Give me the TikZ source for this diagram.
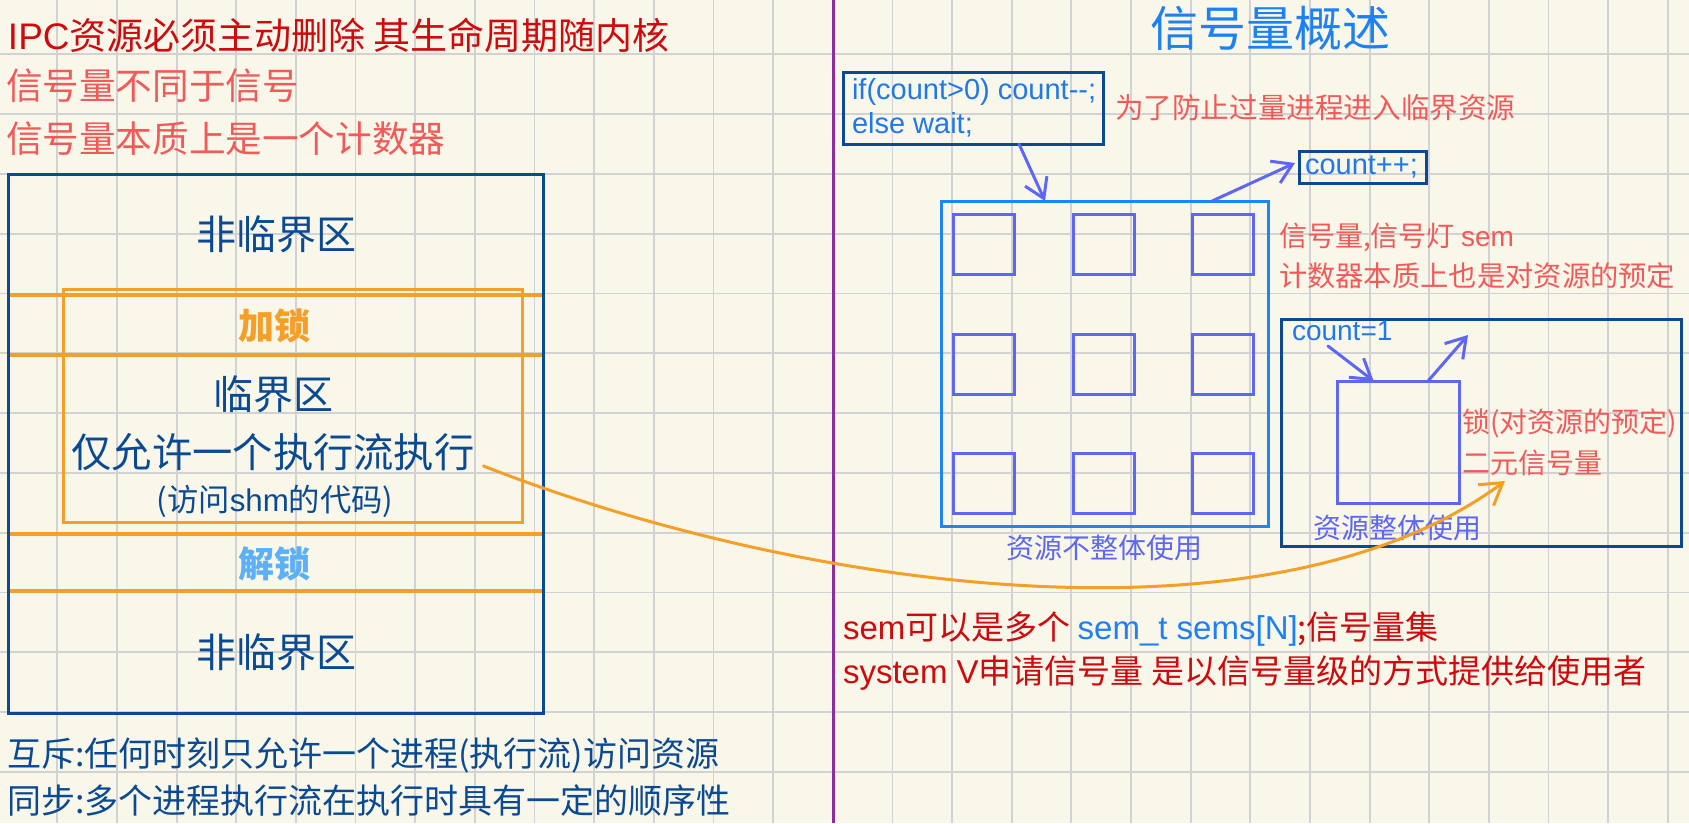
\documentclass[tikz,border=0pt]{standalone}
\usepackage{fontspec}
\setmainfont{Noto Sans CJK SC}
\newfontfamily\lat{Liberation Sans}
\usetikzlibrary{arrows.meta,calc}
\definecolor{bgc}{HTML}{F9F7EA}
\definecolor{gridc}{HTML}{D2D2D2}
\definecolor{dred}{HTML}{CF0A0F}
\definecolor{lred}{HTML}{F25A5A}
\definecolor{dblue}{HTML}{0B4A93}
\definecolor{tblue}{HTML}{1E80F5}
\definecolor{cblue}{HTML}{1F78EE}
\definecolor{bboxc}{HTML}{1C86F7}
\definecolor{vio}{HTML}{5E66F6}
\definecolor{orangec}{HTML}{F4A028}
\definecolor{lblue}{HTML}{5DB0F5}
\definecolor{purp}{HTML}{8E2BA0}
\newcommand\setfs[1]{\fontsize{#1}{#1}\selectfont}
\begin{document}
\begin{tikzpicture}[x=1pt,y=-1pt,
  every node/.style={inner sep=0pt, outer sep=0pt},
  gridline/.style={draw=gridc, line width=1.8pt},
  dbbox/.style={draw=dblue, line width=3pt},
  bbox/.style={draw=bboxc, line width=3pt},
  vbox/.style={draw=vio, line width=3pt},
  obox/.style={draw=orangec, line width=3pt},
  oline/.style={draw=orangec, line width=3.5pt},
  varrow/.style={draw=vio, line width=3pt, line cap=round, -{Straight Barb[length=19pt,width=24pt]}},
  oarrow/.style={draw=orangec, line width=3pt, line cap=round, -{Straight Barb[length=21pt,width=26pt]}},
  lt/.style={anchor=base west},
  ct/.style={anchor=base}]
\useasboundingbox (0,0) rectangle (1689,823);
\fill[bgc] (0,0) rectangle (1689,823);
\foreach \k in {0,...,27} \draw[gridline] ({57.3+59.65*\k},0) -- ({57.3+59.65*\k},823);
\foreach \k in {0,...,12} \draw[gridline] (0,{54.3+59.8*\k}) -- (1689,{54.3+59.8*\k});
\draw[draw=purp, line width=3pt] (833,0) -- (833,823);

% left top texts
\node[lt, text=dred] (t1) at (8,49) {\setfs{37}{\lat IPC}资源必须主动删除 其生命周期随内核};
\node[lt, text=lred] (t2) at (6,99) {\setfs{36.6}信号量不同于信号};
\node[lt, text=lred] (t3) at (6,152) {\setfs{36.6}信号量本质上是一个计数器};

% left box
\node[dbbox, minimum width=535, minimum height=538.5, anchor=north west] (crit) at (8.6,174.5) {};
\node[obox, minimum width=459, minimum height=233, anchor=north west] (lockbox) at (63,289) {};
\draw[oline] (9.6,295) -- (542,295);
\draw[oline] (9.6,355) -- (542,355);
\draw[oline] (9.6,534) -- (542,534);
\draw[oline] (9.6,591) -- (542,591);
\node[ct, text=dblue] (nc1) at (276,249.5) {\setfs{40}非临界区};
\node[ct, text=orangec, font=\bfseries] (lock) at (274,339) {\setfs{36}加锁};
\node[ct, text=dblue] (cs) at (273,409.5) {\setfs{40}临界区};
\node[ct, text=dblue] (only) at (273,467) {\setfs{40.3}仅允许一个执行流执行};
\node[ct, text=dblue] (shm) at (275,511) {\setfs{31.3}(访问{\lat shm}的代码)};
\node[ct, text=lblue, font=\bfseries] (unlock) at (274,577) {\setfs{36}解锁};
\node[ct, text=dblue] (nc2) at (276,667) {\setfs{40}非临界区};

% bottom left
\node[lt, text=dblue] (mutex) at (7,766) {\setfs{34}互斥:任何时刻只允许一个进程(执行流)访问资源};
\node[lt, text=dblue] (sync) at (7,813) {\setfs{34}同步:多个进程执行流在执行时具有一定的顺序性};

% right side
\node[ct, text=tblue] (title) at (1270,46) {\setfs{48}信号量概述};
\node[dbbox, minimum width=260, minimum height=72, anchor=north west] (codebox) at (843,72) {};
\node[lt, text=cblue] (c1) at (852,99) {\setfs{29}\lat if(count>0) count-{}-;};
\node[lt, text=cblue] (c2) at (852,133) {\setfs{29}\lat else wait;};
\node[lt, text=lred] (prevent) at (1115,118) {\setfs{28.6}为了防止过量进程进入临界资源};

\node[dbbox, minimum width=127, minimum height=32, anchor=north west] (incbox) at (1299,151) {};
\node[lt, text=cblue] (inc) at (1305,174) {\setfs{29}\lat count++;};

\node[bbox, minimum width=327, minimum height=325, anchor=north west] (res) at (941,201) {};
\foreach \cx [count=\i] in {953,1073,1192}
  \foreach \ry [count=\j] in {214,334,453}
    \node[vbox, minimum width=61, minimum height=60, anchor=north west] (sq-\i-\j) at (\cx,\ry) {};
\node[ct, text=vio] (nonwhole) at (1104,558) {\setfs{28}资源不整体使用};

\node[lt, text=lred] (semname) at (1279,246) {\setfs{28}信号量,信号灯 {\lat sem}};
\node[lt, text=lred] (counter) at (1279,286) {\setfs{28.3}计数器本质上也是对资源的预定};

\node[dbbox, minimum width=400, minimum height=227, anchor=north west] (whole) at (1281,319) {};
\node[lt, text=cblue] (cnt1) at (1292,340) {\setfs{28}\lat count=1};
\node[vbox, minimum width=122, minimum height=122, anchor=north west] (onesq) at (1337,381) {};
\node[lt, text=lred] (locktxt) at (1462,432) {\setfs{28}锁(对资源的预定)};
\node[lt, text=lred] (binary) at (1462,473) {\setfs{28}二元信号量};
\node[lt, text=vio] (wholetxt) at (1313,538) {\setfs{28}资源整体使用};

% bottom right
\node[lt, text=dred] (semset) at (843,639) {\setfs{33}{\lat sem}可以是多个 {\lat\textcolor{tblue}{sem\_t sems[N]}};信号量集};
\node[lt, text=dred] (sysv) at (843,683) {\setfs{33}{\lat system V}申请信号量 是以信号量级的方式提供给使用者};

% connectors
\draw[varrow] ($(codebox.south west)!0.677!(codebox.south east)$) -- ($(res.north west)!0.318!(res.north east)$);
\draw[varrow] ($(res.north west)!0.829!(res.north east)$) -- ([xshift=-4pt,yshift=4pt]incbox.west);
\draw[varrow] ([xshift=36pt,yshift=-6pt]cnt1.base west) -- ($(onesq.north west)!0.30!(onesq.north east)$);
\coordinate (upend) at (1468,335);
\draw[varrow] ($(onesq.north west)!0.746!(onesq.north east)$) -- (upend);
\coordinate (curveend) at (1505,481);
\draw[oarrow] ([xshift=9pt,yshift=1pt]only.base east) .. controls (800,590) and (1270,655) .. (curveend);
\end{tikzpicture}
\end{document}
